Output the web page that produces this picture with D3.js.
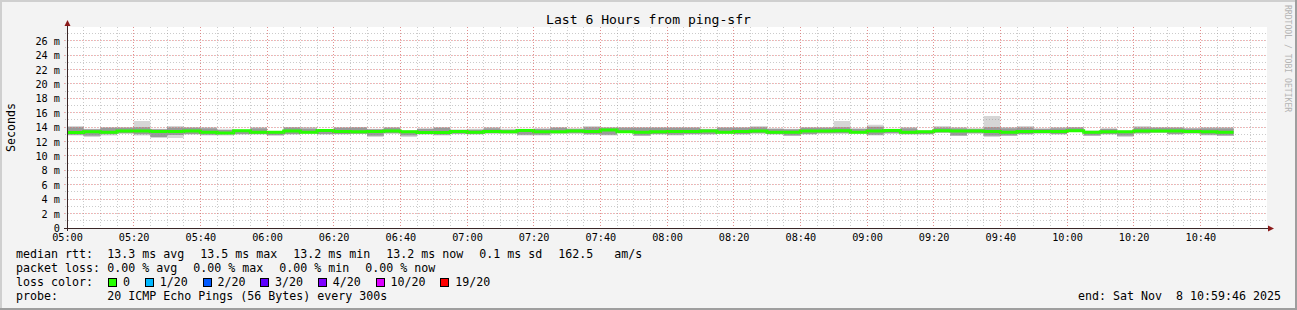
<!DOCTYPE html>
<html><head><meta charset="utf-8">
<script src="https://cdn.jsdelivr.net/npm/d3@7"></script>
<style>
html,body{margin:0;padding:0;background:#f3f3f3;overflow:hidden;}
svg{display:block;font-family:"DejaVu Sans Mono",monospace;}
</style></head><body>
<svg id="chart" width="1297" height="310"></svg>
<script>
// ---- data (ms), one value per 5-minute step starting 05:00 ----
const medianMs = [13.27,13.35,13.30,13.45,13.45,13.40,13.40,13.45,13.30,13.20,
  13.50,13.30,13.30,13.45,13.30,13.55,13.40,13.35,13.40,13.45,
  13.35,13.25,13.25,13.40,13.30,13.40,13.35,13.55,13.35,13.35,
  13.45,13.40,13.60,13.35,13.30,13.35,13.40,13.40,13.45,13.30,
  13.40,13.45,13.30,13.30,13.45,13.45,13.50,13.30,13.45,13.55,
  13.30,13.35,13.50,13.45,13.45,13.40,13.30,13.40,13.40,13.40,
  13.50,13.30,13.35,13.35,13.45,13.45,13.45,13.40,13.35,13.30];
const minMs = [12.85,12.62,12.85,13.08,12.85,12.48,12.48,12.94,12.85,12.85,
  12.94,12.94,12.76,12.94,13.10,12.94,12.98,13.05,12.62,13.08,
  12.62,12.94,12.85,13.00,12.94,13.08,13.08,12.85,12.85,13.08,
  13.08,12.94,12.85,13.22,12.76,12.94,12.85,12.94,12.94,13.08,
  12.94,13.08,12.94,12.76,12.94,13.08,13.08,13.08,12.85,13.08,
  12.94,12.94,13.22,12.76,13.08,12.62,12.76,12.94,13.08,12.94,
  13.31,12.76,12.94,12.62,13.08,13.22,12.94,13.08,12.85,12.76];
const maxMs = [14.15,13.78,14.01,14.01,14.84,13.78,14.15,14.01,14.01,13.78,
  13.69,14.01,13.40,14.01,14.01,13.69,14.01,14.01,13.78,14.01,
  13.55,13.87,14.01,13.70,13.78,14.01,13.78,13.78,13.87,14.01,
  13.87,14.15,14.01,14.01,14.01,14.01,14.01,14.01,13.78,14.01,
  14.01,14.15,13.87,13.78,14.01,14.01,14.84,13.87,14.33,13.78,
  14.01,13.55,14.15,14.01,13.87,15.53,14.01,14.15,13.87,14.01,
  14.01,13.55,13.87,13.55,14.15,14.01,14.01,13.87,14.01,14.01];
const q1Ms = [12.95,12.80,13.00,13.15,13.00,12.62,12.90,13.05,12.95,13.00,
  13.05,13.05,12.90,13.05,13.15,13.05,13.05,13.10,12.80,13.15,
  12.85,13.05,12.95,13.10,13.05,13.15,13.15,12.95,12.95,13.15,
  13.15,13.00,12.95,13.25,12.85,13.05,12.95,13.05,13.05,13.15,
  13.05,13.15,13.05,12.85,13.05,13.15,13.15,13.15,12.95,13.15,
  13.05,13.05,13.25,12.85,13.15,12.80,12.85,13.05,13.15,13.05,
  13.35,12.85,13.05,12.80,13.15,13.25,13.05,13.15,12.95,12.85];
const q3Ms = [14.00,13.70,13.90,13.90,14.00,13.70,13.95,13.90,13.85,13.60,
  13.60,13.85,13.35,13.95,13.80,13.65,13.90,13.95,13.70,13.90,
  13.50,13.75,13.90,13.60,13.65,13.85,13.65,13.70,13.75,13.90,
  13.75,14.00,13.90,13.90,13.90,13.90,13.90,13.90,13.70,13.90,
  13.90,14.00,13.75,13.70,13.90,13.90,14.00,13.75,14.05,13.70,
  13.85,13.50,13.95,13.85,13.75,14.00,13.85,13.95,13.75,13.85,
  13.95,13.45,13.75,13.45,13.95,13.90,13.90,13.80,13.85,13.85];

const xTickLabels = ["05:00","05:20","05:40","06:00","06:20","06:40","07:00","07:20","07:40",
  "08:00","08:20","08:40","09:00","09:20","09:40","10:00","10:20","10:40"];
const yTickValues = [0,2,4,6,8,10,12,14,16,18,20,22,24,26];

const titleText = "Last 6 Hours from ping-sfr";
const yAxisTitle = "Seconds";
const watermark = "RRDTOOL / TOBI OETIKER";
const rttLegend = ["median rtt:", "13.3 ms avg", "13.5 ms max", "13.2 ms min", "13.2 ms now", "0.1 ms sd", "162.5   am/s"];
const lossLegend = ["packet loss:", "0.00 % avg", "0.00 % max", "0.00 % min", "0.00 % now"];
const lossColorTitle = "loss color:";
const lossLabels = ["0","1/20","2/20","3/20","4/20","10/20","19/20"];
const lossColors = ["#26ff00","#00b8ff","#0059ff","#5e00ff","#7e00ff","#dd00ff","#ff0000"];
const probeLegend = ["probe:", "20 ICMP Echo Pings (56 Bytes) every 300s"];
const endText = "end: Sat Nov  8 10:59:46 2025";

// ---- layout ----
const W = 1297, H = 310;
const plot = {left: 67, right: 1267, top: 27, bottom: 228};
const day = (h, m) => new Date(2025, 10, 8, h, m);
const parseHM = s => { const [h, m] = s.split(":").map(Number); return day(h, m); };
const times = medianMs.map((_, i) => day(5, 5 * i));
const tEnd = day(5, 5 * medianMs.length);

const x = d3.scaleTime().domain([day(5, 0), day(11, 0)]).range([plot.left, plot.right]);
const y = d3.scaleLinear().domain([0, (plot.bottom - plot.top) / 7.204]).range([plot.bottom, plot.top]);

const svg = d3.select("#chart");
const charW = 7.0;
const legendFont = "11.63px";

// background + shaded border
svg.append("rect").attr("width", W).attr("height", H).attr("fill", "#f3f3f3");
svg.append("path").attr("d", `M0,0H${W}V2H2V${H}H0Z`).attr("fill", "#cfcfcf");
svg.append("path").attr("d", `M${W},0V${H}H0V${H-2}H${W-2}V0Z`).attr("fill", "#9e9e9e");

// canvas
svg.append("rect").attr("x", plot.left).attr("y", plot.top)
  .attr("width", plot.right - plot.left).attr("height", plot.bottom - plot.top).attr("fill", "#ffffff");

// data rows
const rows = medianMs.map((m, i) => ({t: times[i], med: m, lo: minMs[i], hi: maxMs[i], q1: q1Ms[i], q3: q3Ms[i]}));
const last = rows[rows.length - 1];
const stepRows = rows.concat([{...last, t: tEnd}]);

const gData = svg.append("g");
gData.append("path").datum(stepRows)
  .attr("d", d3.area().curve(d3.curveStepAfter).x(d => x(d.t)).y0(d => y(d.lo)).y1(d => y(d.hi)))
  .attr("fill", "#d6d6d6");
gData.append("path").datum(stepRows)
  .attr("d", d3.area().curve(d3.curveStepAfter).x(d => x(d.t)).y0(d => y(d.q1)).y1(d => y(d.q3)))
  .attr("fill", "#9a9a9a");
gData.append("path").datum(stepRows)
  .attr("d", d3.line().curve(d3.curveStepAfter).x(d => x(d.t)).y(d => y(d.med)))
  .attr("fill", "none").attr("stroke", lossColors[0]).attr("stroke-width", 3);

// grid (on top, like rrdtool)
const gGrid = svg.append("g").attr("shape-rendering", "crispEdges").attr("stroke-dasharray", "1,2");
const minorT = x.ticks(d3.timeMinute.every(5)).filter(t => x(t) > plot.left && x(t) < plot.right);
const majorT = x.ticks(d3.timeMinute.every(20)).filter(t => x(t) > plot.left && x(t) < plot.right);
const minorV = d3.range(1, Math.floor(y.domain()[1]) + 1);
const majorV = yTickValues.filter(v => v > 0);
const minorColor = "rgba(140,140,140,0.45)", majorColor = "rgba(255,70,70,0.45)";
gGrid.selectAll(".vmin").data(minorT).join("line")
  .attr("x1", d => x(d)).attr("x2", d => x(d)).attr("y1", plot.top).attr("y2", plot.bottom + 2)
  .attr("stroke", minorColor);
gGrid.selectAll(".hmin").data(minorV).join("line")
  .attr("x1", plot.left - 2).attr("x2", plot.right).attr("y1", d => y(d)).attr("y2", d => y(d))
  .attr("stroke", minorColor);
gGrid.selectAll(".vmaj").data(majorT).join("line")
  .attr("x1", d => x(d)).attr("x2", d => x(d)).attr("y1", plot.top).attr("y2", plot.bottom + 3)
  .attr("stroke", majorColor);
gGrid.selectAll(".hmaj").data(majorV).join("line")
  .attr("x1", plot.left - 3).attr("x2", plot.right).attr("y1", d => y(d)).attr("y2", d => y(d))
  .attr("stroke", majorColor);

// axes lines + arrows
const axisColor = "#3a2626", arrowColor = "#8b1a1a";
svg.append("line").attr("x1", plot.left - 3).attr("x2", plot.right + 1)
  .attr("y1", plot.bottom + 0.5).attr("y2", plot.bottom + 0.5).attr("stroke", axisColor);
svg.append("line").attr("x1", plot.left + 0.5).attr("x2", plot.left + 0.5)
  .attr("y1", plot.bottom + 3).attr("y2", plot.top - 1).attr("stroke", axisColor);
svg.append("path").attr("d", `M${plot.right + 1},${plot.bottom - 2.5}L${plot.right + 7},${plot.bottom + 0.5}L${plot.right + 1},${plot.bottom + 3.5}Z`).attr("fill", arrowColor);
svg.append("path").attr("d", `M${plot.left - 2.5},${plot.top - 1}L${plot.left + 0.5},${plot.top - 7}L${plot.left + 3.5},${plot.top - 1}Z`).attr("fill", arrowColor);

// axis labels via d3 axes
const xAxis = d3.axisBottom(x).tickValues(xTickLabels.map(parseHM))
  .tickFormat(d3.timeFormat("%H:%M")).tickSize(0);
const gx = svg.append("g").attr("transform", `translate(0,${plot.bottom})`).call(xAxis);
gx.select(".domain").remove();
gx.selectAll("text").attr("y", 9.7).attr("dy", null).attr("dominant-baseline", "central")
  .attr("font-family", "DejaVu Sans Mono").attr("font-size", "10.2px").attr("fill", "#000");

const yAxis = d3.axisLeft(y).tickValues(yTickValues).tickFormat(d => d === 0 ? "0" : d + " m").tickSize(0).tickPadding(7);
const gy = svg.append("g").attr("transform", `translate(${plot.left},0)`).call(yAxis);
gy.select(".domain").remove();
gy.selectAll("text").attr("dy", null).attr("dominant-baseline", "central")
  .attr("font-family", "DejaVu Sans Mono").attr("font-size", "10.2px").attr("fill", "#000");

// title
svg.append("text").attr("x", W / 2).attr("y", 19).attr("text-anchor", "middle")
  .attr("dominant-baseline", "central").attr("font-size", "13.1px").attr("fill", "#000").text(titleText);

// y axis title
svg.append("text").attr("transform", `translate(11,${(plot.top + plot.bottom) / 2}) rotate(-90)`)
  .attr("text-anchor", "middle").attr("dominant-baseline", "central")
  .attr("font-size", "11.63px").attr("fill", "#000").text(yAxisTitle);

// watermark
svg.append("text").attr("transform", "translate(1285,5) rotate(90)")
  .attr("font-size", "8.1px").attr("fill", "#b4b4b4").text(watermark);

// legend
const legendX = 16, valueX = 107.3, gap = 16;
const g = svg.append("g").attr("font-size", legendFont).attr("fill", "#000");
function fieldRow(items, yc) {
  g.append("text").attr("x", legendX).attr("y", yc).attr("dominant-baseline", "central")
    .style("white-space", "pre").text(items[0]);
  let xp = valueX;
  items.slice(1).forEach(s => {
    g.append("text").attr("x", xp).attr("y", yc).attr("dominant-baseline", "central")
      .style("white-space", "pre").text(s);
    xp += s.length * charW + gap;
  });
}
fieldRow(rttLegend, 254.3);
fieldRow(lossLegend, 268.3);
// loss colour row
g.append("text").attr("x", legendX).attr("y", 282).attr("dominant-baseline", "central").text(lossColorTitle);
let sx = valueX + 1;
lossLabels.forEach((lab, i) => {
  g.append("rect").attr("x", Math.round(sx) + 0.5).attr("y", 278.5).attr("width", 8).attr("height", 8)
    .attr("fill", lossColors[i]).attr("stroke", "#000").attr("stroke-width", 1);
  const lx = sx + 14.7;
  g.append("text").attr("x", lx).attr("y", 282).attr("dominant-baseline", "central").text(lab);
  sx = lx + lab.length * charW + 15;
});
fieldRow(probeLegend, 296);
g.append("text").attr("x", 1281).attr("y", 296).attr("text-anchor", "end")
  .attr("dominant-baseline", "central").style("white-space", "pre").text(endText);
</script>
</body></html>
